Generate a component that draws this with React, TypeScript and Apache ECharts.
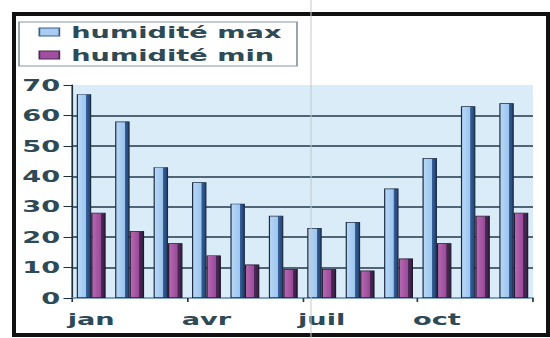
import React, { useEffect, useRef } from "react";
import * as echarts from "echarts";

const months = ["jan", "fév", "mar", "avr", "mai", "juin", "juil", "aoû", "sep", "oct", "nov", "déc"];
const humiditeMax = [67, 58, 43, 38, 31, 27, 23, 25, 36, 46, 63, 64];
const humiditeMin = [28, 22, 18, 14, 11, 9.5, 9.5, 9, 13, 18, 27, 28];
const seriesNames = ["humidité max", "humidité min"];

// the scan is stretched horizontally; draw in a narrower space and stretch it back
const S = 1.7;
const W = 550 / S;
const H = 338;

const TEXT = "#2e4a56";
const FONT = "DejaVu Sans";

export default function App() {
  const ref = useRef<HTMLDivElement>(null);

  useEffect(() => {
    if (!ref.current) return;
    const chart = echarts.init(ref.current, null, { renderer: "svg", width: W, height: H });
    const grad = (stops: [number, string][]) => ({
      type: "linear",
      x: 0,
      y: 0,
      x2: 1,
      y2: 0,
      colorStops: stops.map(([offset, color]) => ({ offset, color })),
    });
    chart.setOption({
      animation: false,
      backgroundColor: "transparent",
      grid: {
        left: 72 / S,
        right: 17 / S,
        top: 85,
        bottom: 40,
        show: true,
        backgroundColor: "#d9ecf8",
        borderWidth: 0,
      },
      legend: {
        orient: "vertical",
        left: 30 / S,
        top: 18,
        itemWidth: 20 / S,
        itemHeight: 8,
        itemGap: 5,
        icon: "rect",
        textStyle: {
          fontFamily: FONT,
          fontWeight: "bold",
          fontSize: 16,
          lineHeight: 18,
          color: TEXT,
          padding: [0, 0, 0, 2],
        },
        data: [
          { name: seriesNames[0], itemStyle: { color: "#a9cdf2", borderColor: "#3b5f88", borderWidth: 1 } },
          { name: seriesNames[1], itemStyle: { color: "#a24fa0", borderColor: "#4a2a55", borderWidth: 1 } },
        ],
      },
      xAxis: {
        type: "category",
        data: months,
        boundaryGap: true,
        axisLine: { show: true, lineStyle: { color: "#5f86ad", width: 1.5 } },
        axisTick: { show: true, length: 4, lineStyle: { color: "#2a3a48", width: 1 } },
        axisLabel: {
          interval: 2,
          margin: 13,
          fontFamily: FONT,
          fontWeight: "bold",
          fontSize: 16,
          color: TEXT,
        },
        splitLine: { show: false },
      },
      yAxis: {
        type: "value",
        min: 0,
        max: 70,
        interval: 10,
        axisLine: { show: true, lineStyle: { color: "#1e303c", width: 1 } },
        axisTick: { show: true, length: 5, lineStyle: { color: "#1e303c", width: 1 } },
        axisLabel: {
          margin: 7,
          fontFamily: FONT,
          fontWeight: "bold",
          fontSize: 16,
          color: TEXT,
        },
        splitLine: {
          show: true,
          showMinLine: false,
          showMaxLine: false,
          lineStyle: { color: "#22394a", width: 1.5 },
        },
      },
      series: [
        {
          name: seriesNames[0],
          type: "bar",
          data: humiditeMax,
          barWidth: 8.5,
          barGap: "0%",
          itemStyle: {
            color: grad([
              [0, "#b8d8f6"],
              [0.66, "#9dc5ee"],
              [0.68, "#34619c"],
              [1, "#243f6c"],
            ]),
            borderColor: "#1c2c44",
            borderWidth: 0.7,
          },
        },
        {
          name: seriesNames[1],
          type: "bar",
          data: humiditeMin,
          barWidth: 8.5,
          itemStyle: {
            color: grad([
              [0, "#b56ab3"],
              [0.66, "#9b4a98"],
              [0.68, "#4a2a5a"],
              [1, "#33203f"],
            ]),
            borderColor: "#24182c",
            borderWidth: 0.7,
          },
        },
      ],
      graphic: [
        {
          type: "rect",
          shape: { x: 19 / S, y: 22, width: (297 - 19) / S, height: 44 },
          style: { fill: "none", stroke: "#8796a2", lineWidth: 1 },
          silent: true,
        },
        {
          type: "line",
          shape: { x1: 311 / S, y1: 0, x2: 311 / S, y2: H },
          style: { stroke: "#c4c8cc", lineWidth: 0.6 },
          silent: true,
          z: 100,
        },
      ],
    });
    return () => chart.dispose();
  }, []);

  return (
    <div style={{ position: "absolute", left: 0, top: 0, width: 550, height: 338, background: "#fff", overflow: "hidden" }}>
      <div
        style={{
          position: "absolute",
          left: 12,
          top: 12,
          width: 538,
          height: 325,
          border: "4px solid #111",
          boxSizing: "border-box",
        }}
      />
      <div
        ref={ref}
        style={{
          position: "absolute",
          left: 0,
          top: 0,
          width: W,
          height: H,
          transform: `scaleX(${S})`,
          transformOrigin: "0 0",
        }}
      />
    </div>
  );
}
